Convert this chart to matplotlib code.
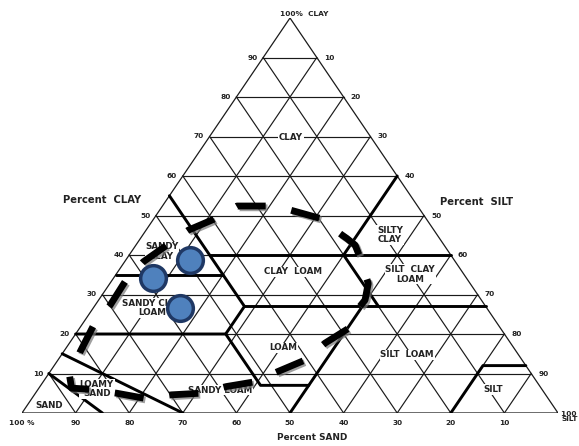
import numpy as np
import matplotlib.pyplot as plt
from matplotlib import patheffects as pe

plt.rcParams["font.family"] = ["DejaVu Sans"]

# tick values along each side of the triangle (percent)
clay_ticks = [10, 20, 30, 40, 50, 60, 70, 80, 90]
silt_ticks = [10, 20, 30, 40, 50, 60, 70, 80, 90]
sand_ticks = [90, 80, 70, 60, 50, 40, 30, 20, 10]

# USDA texture class boundaries, polylines of (sand %, clay %)
boundary_sand = [
    [85, 90],
    [70, 85],
    [80, 52, 52, 43],
    [50, 23],
    [52, 45, 45],
    [65, 45],
    [45, 0],
    [45, 0],
    [20, 20, 0],
    [20, 8, 0],
]
boundary_clay = [
    [0, 10],
    [0, 15],
    [20, 20, 7, 7],
    [0, 27],
    [20, 27, 55],
    [35, 35],
    [40, 40],
    [27, 27],
    [27, 40, 60],
    [0, 12, 12],
]

texture_names = ["CLAY", "SILTY\nCLAY", "CLAY  LOAM", "SILT  CLAY\nLOAM", "SANDY\nCLAY",
                 "SANDY CLAY\nLOAM", "LOAM", "SILT  LOAM", "SILT", "SANDY LOAM",
                 "LOAMY\nSAND", "SAND"]
texture_sand = [15.0, 8.8, 31.6, 10.0, 53.5, 62.4, 43.0, 20.8, 9.1, 60.2, 83.0, 94.1]
texture_clay = [69.7, 45.1, 35.7, 35.1, 40.8, 26.6, 16.5, 14.7, 6.0, 5.8, 6.1, 1.8]

# dashed outline of the sampled region (sand %, clay %)
region_sand = [86.5, 87.6, 84.3, 79.8, 75.2, 69.8, 64.3, 58.5, 52.6, 47.0, 40.5, 34.6,
               28.4, 24.0, 21.7, 19.0, 17.2, 16.6, 17.3, 17.8, 19.8, 24.3, 28.1, 33.7,
               39.8, 45.8, 51.7, 58.2, 64.2, 69.9, 75.8, 81.4, 86.5]
region_clay = [9.2, 6.3, 6.0, 5.0, 3.7, 4.6, 5.0, 6.7, 7.9, 10.5, 13.4, 17.7,
               21.4, 26.5, 28.6, 32.8, 39.6, 42.5, 44.2, 45.1, 49.3, 51.4, 52.4, 52.4,
               49.0, 46.3, 42.5, 38.3, 33.2, 27.3, 21.9, 15.5, 9.2]
n_dashes = 14

# soil samples
sample_sand = [49.3, 58.6, 57.3]
sample_clay = [38.7, 34.1, 26.5]


def to_xy(sand, clay):
    sand = np.asarray(sand, dtype=float)
    clay = np.asarray(clay, dtype=float)
    silt = 100 - sand - clay
    return silt + clay / 2, clay


fig = plt.figure(figsize=(5.79, 4.46), dpi=100)
ax = fig.add_axes([22 / 579, 33 / 446, 536 / 579, 395 / 446])
ax.set_xlim(0, 100)
ax.set_ylim(0, 100)
ax.axis("off")

grid_kw = dict(color="#1a1a1a", lw=0.85, zorder=1)
for v in clay_ticks:
    # constant clay, constant silt, constant sand
    ax.plot(*to_xy([100 - v, 0], [v, v]), **grid_kw)
    ax.plot(*to_xy([100 - v, 0], [0, 100 - v]), **grid_kw)
    ax.plot(*to_xy([v, v], [0, 100 - v]), **grid_kw)
ax.plot(*to_xy([100, 0, 0, 100], [0, 0, 100, 0]), color="#1a1a1a", lw=0.9, zorder=1)

for bs, bc in zip(boundary_sand, boundary_clay):
    ax.plot(*to_xy(bs, bc), color="black", lw=2.1, solid_capstyle="round", zorder=2)

for name, s, c in zip(texture_names, texture_sand, texture_clay):
    x, y = to_xy(s, c)
    ax.text(x, y, name, ha="center", va="center", fontsize=6.3, fontweight="bold",
            color="#222222", linespacing=1.1, zorder=3,
            bbox=dict(fc="white", ec="none", pad=0.5))

tick_kw = dict(fontsize=5.3, fontweight="bold", color="#222222", textcoords="offset points")
for v in clay_ticks:
    ax.annotate(str(v), to_xy(100 - v, v), xytext=(-4, 0), ha="right", va="center", **tick_kw)
for v in silt_ticks:
    ax.annotate(str(v), to_xy(0, 100 - v), xytext=(5, 0), ha="left", va="center", **tick_kw)
for v in sand_ticks:
    ax.annotate(str(v), to_xy(v, 0), xytext=(0, -7.3), ha="center", va="center", **tick_kw)
ax.annotate("100 %", to_xy(100, 0), xytext=(0, -7.3), ha="center", va="center", **tick_kw)
ax.annotate("100 %\nSILT", to_xy(0, 0), xytext=(2.5, -2.5), ha="left", va="center",
            linespacing=0.8, **tick_kw)
ax.annotate("100%  CLAY", to_xy(0, 100), xytext=(10, 3), ha="center", va="center", **tick_kw)

ax.text(14.9, 53.8, "Percent  CLAY", ha="center", va="center", fontsize=7.2, fontweight="bold", color="#222222")
ax.text(84.8, 53.5, "Percent  SILT", ha="center", va="center", fontsize=7.2, fontweight="bold", color="#222222")
ax.text(54.1, -6.3, "Percent SAND", ha="center", va="center", fontsize=6.4, fontweight="bold", color="#222222")

# dashed region outline, dash period fitted to the path length
rx, ry = to_xy(region_sand, region_clay)
pts = ax.transData.transform(np.column_stack([rx, ry]))
length_pt = np.sum(np.hypot(*np.diff(pts, axis=0).T)) * 72 / fig.dpi
lw = 4.9
period = length_pt / n_dashes / lw
ax.plot(rx, ry, color="black", lw=lw, dashes=(period * 0.53, period * 0.47),
        dash_capstyle="butt", zorder=4,
        path_effects=[pe.SimpleLineShadow(offset=(1.3, -1.3), shadow_color="#777777", alpha=0.7),
                      pe.Normal()])

sx, sy = to_xy(sample_sand, sample_clay)
ax.plot(sx, sy, "o", ms=18.5, mfc="#4f81bd", mec="#1f3864", mew=2.5, zorder=5)

fig.savefig("out.png", dpi=100)
